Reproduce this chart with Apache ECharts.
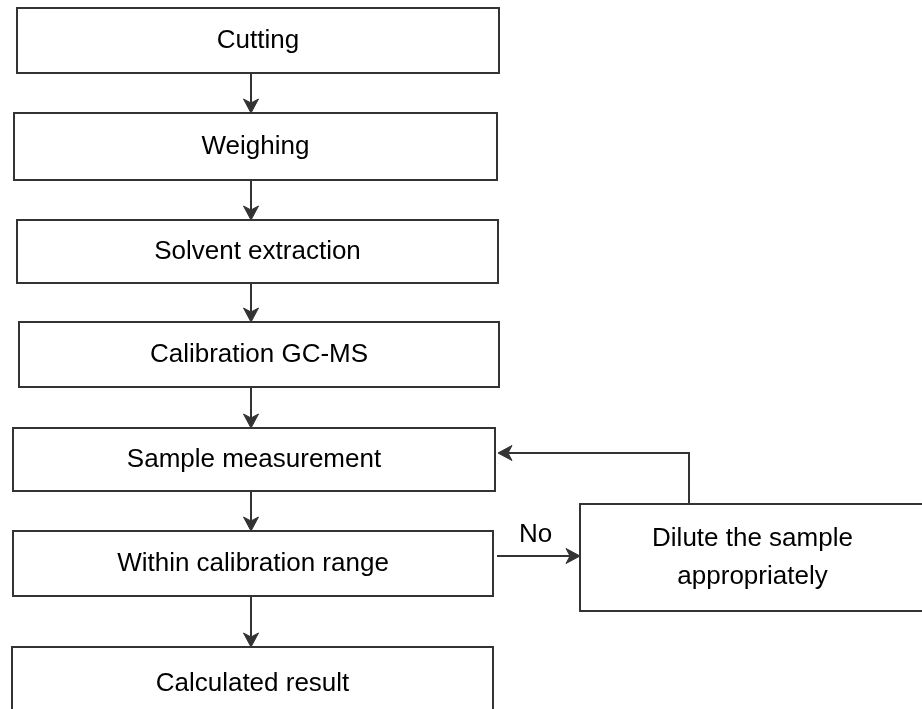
<!DOCTYPE html>
<html>
<head>
<meta charset="utf-8">
<script src="https://cdn.jsdelivr.net/npm/echarts@6/dist/echarts.min.js"></script>
<style>
  html, body { margin: 0; padding: 0; background: #fff; }
  #flow { width: 922px; height: 709px; }
</style>
</head>
<body>
<div id="flow"></div>
<script>
// main column of the flow, top to bottom
const steps = ['Cutting', 'Weighing', 'Solvent extraction', 'Calibration GC-MS', 'Sample measurement', 'Within calibration range', 'Calculated result'];
const stepLeft = [17, 14, 17, 19, 13, 13, 12];
const stepRight = [499, 497, 498, 499, 495, 493, 493];
const stepTop = [8, 113, 220, 322, 428, 531, 647];
const stepBottom = [73, 180, 283, 387, 491, 596, 720];

// side branch
const sideSteps = ['Dilute the sample\nappropriately'];
const sideBox = [[580, 504, 925, 611]];

// connectors (polylines, arrow at the last point)
const mainArrowX = 251;
const branchPaths = [
    [[497, 556], [580, 556]],
    [[689, 504], [689, 453], [498, 453]]
];
const branchLabels = ['No', ''];

const lineColor = '#333';
const font = '"Liberation Sans", Arial, sans-serif';

const chart = echarts.init(document.getElementById('flow'), null, {renderer: 'canvas'});

const boxData = steps.map((s, i) => ({name: s, value: [stepLeft[i], stepTop[i], stepRight[i], stepBottom[i]]}))
    .concat(sideSteps.map((s, i) => ({name: s, value: sideBox[i]})));

const paths = [];
for (let i = 0; i < steps.length - 1; i++) {
    paths.push([[mainArrowX, stepBottom[i]], [mainArrowX, stepTop[i + 1]]]);
}
const labels = paths.map(() => '');
branchPaths.forEach((p, i) => { paths.push(p); labels.push(branchLabels[i]); });

function renderBox(params, api) {
    const p0 = api.coord([api.value(0), api.value(1)]);
    const p1 = api.coord([api.value(2), api.value(3)]);
    return {
        type: 'rect',
        shape: {x: p0[0], y: p0[1], width: p1[0] - p0[0], height: p1[1] - p0[1]},
        style: {fill: '#fff', stroke: lineColor, lineWidth: 2},
        textContent: {
            style: {
                text: boxData[params.dataIndex].name,
                fill: '#000',
                fontSize: 26,
                fontFamily: font,
                lineHeight: 38,
                align: 'center'
            }
        },
        textConfig: {position: 'inside'}
    };
}

function renderLink(params, api) {
    const pts = paths[params.dataIndex].map(p => api.coord(p));
    const n = pts.length;
    const tip = pts[n - 1];
    const prev = pts[n - 2];
    const dx = tip[0] - prev[0], dy = tip[1] - prev[1];
    const len = Math.sqrt(dx * dx + dy * dy);
    const ux = dx / len, uy = dy / len;
    const hl = 14, hw = 7.5, notch = 10;
    const back = [tip[0] - ux * hl, tip[1] - uy * hl];
    const head = [
        tip,
        [back[0] - uy * hw, back[1] + ux * hw],
        [tip[0] - ux * notch, tip[1] - uy * notch],
        [back[0] + uy * hw, back[1] - ux * hw]
    ];
    const line = pts.slice(0, n - 1).concat([[tip[0] - ux * notch, tip[1] - uy * notch]]);
    const children = [
        {type: 'polyline', shape: {points: line}, style: {stroke: lineColor, lineWidth: 2, fill: null}},
        {type: 'polygon', shape: {points: head}, style: {fill: lineColor, stroke: lineColor, lineWidth: 1}}
    ];
    if (labels[params.dataIndex]) {
        children.push({
            type: 'text',
            style: {
                text: labels[params.dataIndex],
                x: (pts[0][0] + tip[0]) / 2 - 3,
                y: pts[0][1] - 8,
                fill: '#000',
                fontSize: 26,
                fontFamily: font,
                align: 'center',
                verticalAlign: 'bottom'
            }
        });
    }
    return {type: 'group', children: children};
}

const option = {
    animation: false,
    backgroundColor: '#fff',
    grid: {left: 0, right: 0, top: 0, bottom: 0},
    xAxis: {type: 'value', min: 0, max: 922, show: false},
    yAxis: {type: 'value', min: 0, max: 709, inverse: true, show: false},
    series: [
        {
            type: 'custom',
            name: 'links',
            renderItem: renderLink,
            data: paths.map((p, i) => [p[0][0], p[0][1], i]),
            clip: false,
            silent: true,
            z: 1
        },
        {
            type: 'custom',
            name: 'steps',
            renderItem: renderBox,
            data: boxData,
            clip: false,
            silent: true,
            z: 2
        }
    ]
};

chart.setOption(option);
window.addEventListener('resize', chart.resize);
</script>
</body>
</html>
